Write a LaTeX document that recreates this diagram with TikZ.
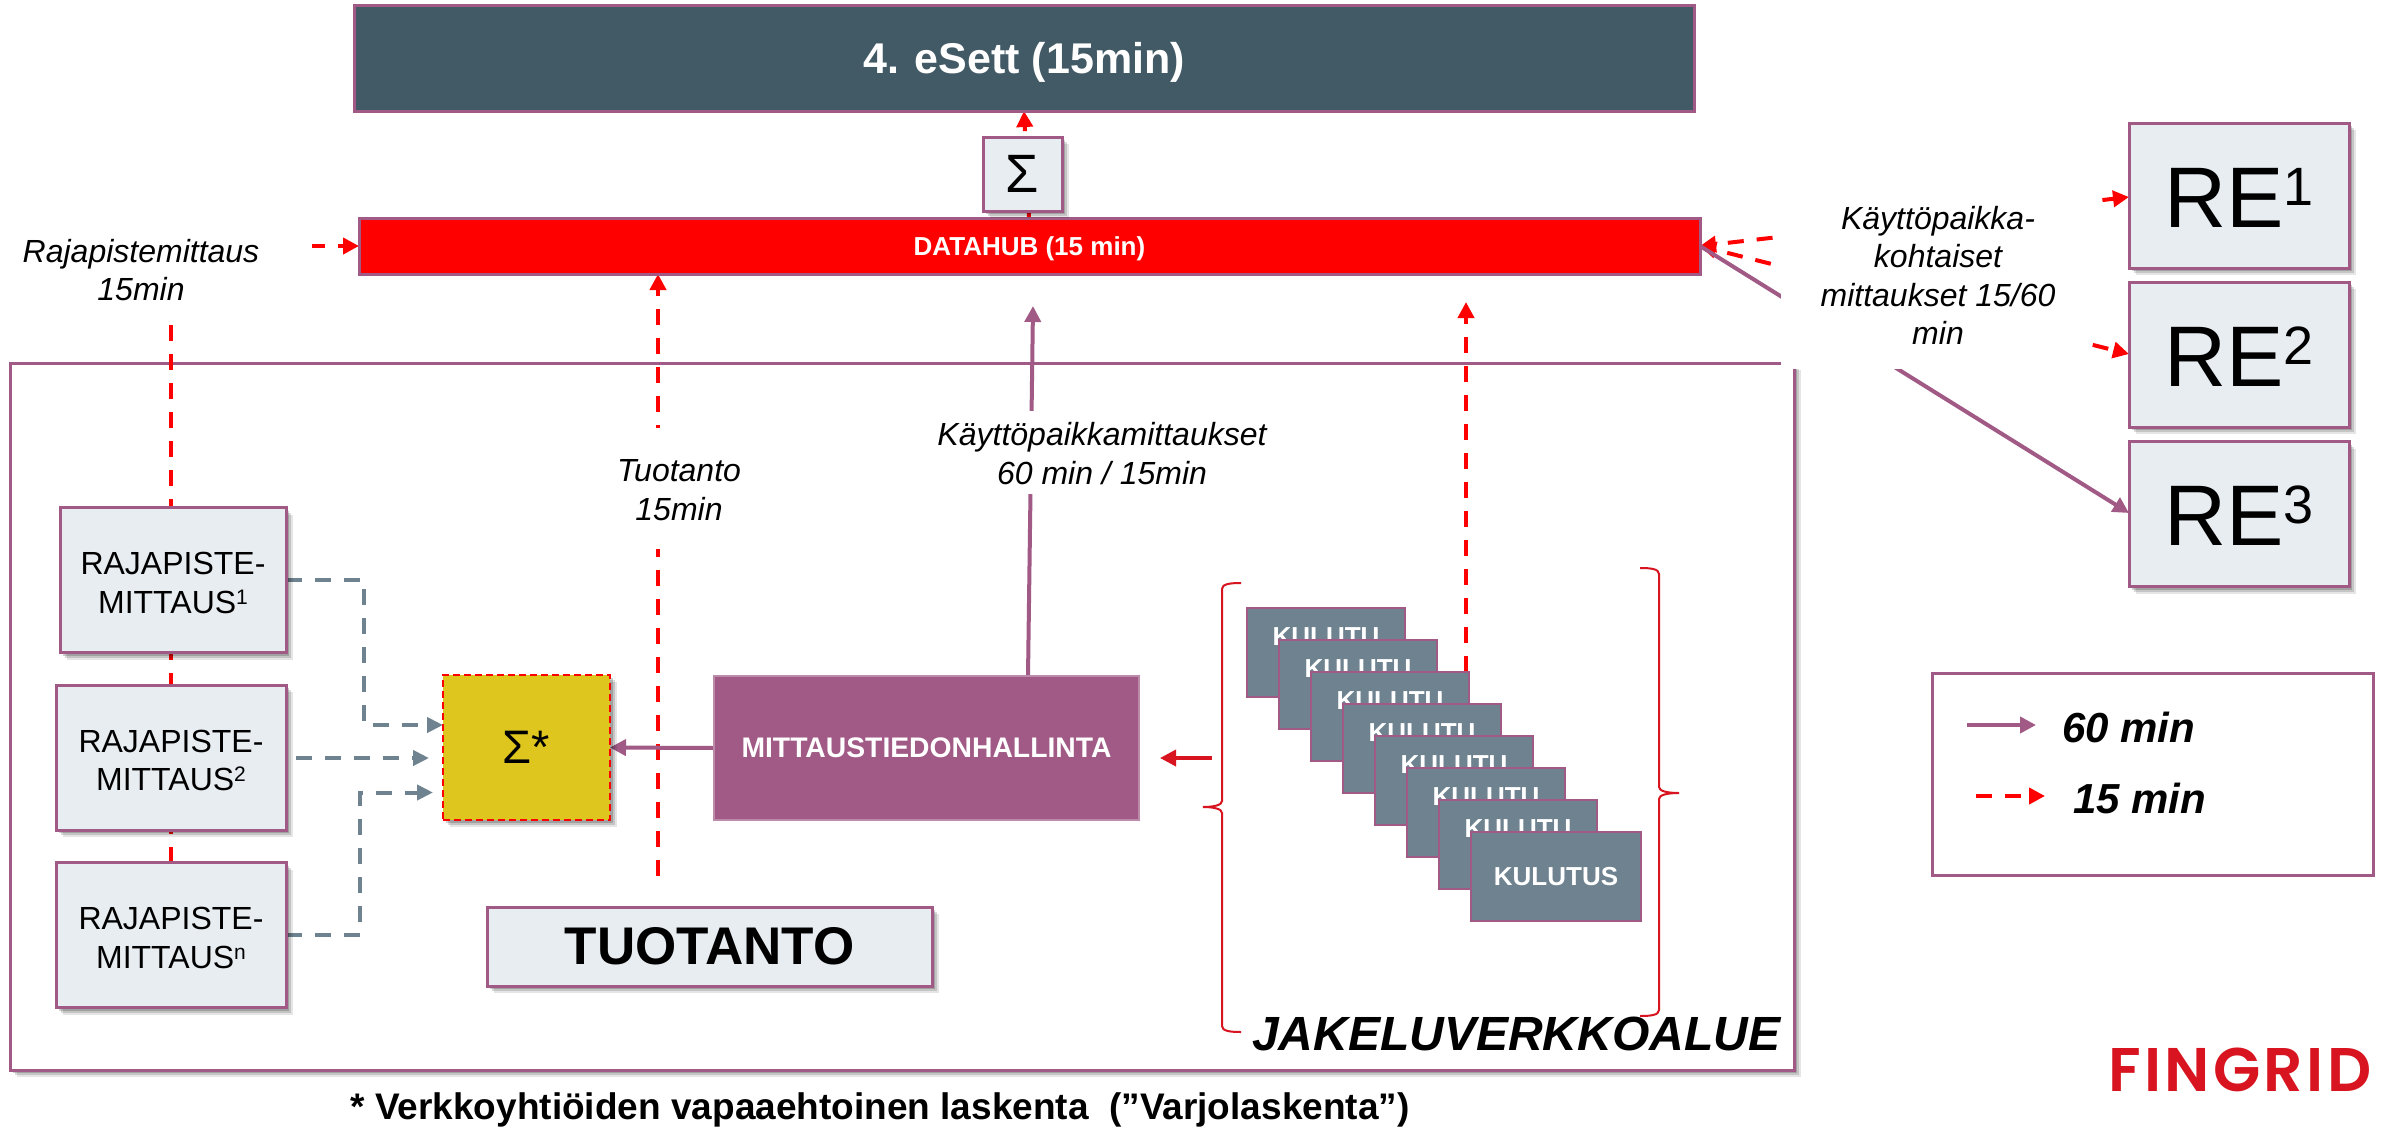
\documentclass[tikz,border=0pt]{standalone}
\usepackage{fontspec}
\setmainfont{Liberation Sans}
\newfontfamily\logofont[LetterSpace=5.4]{Poppins SemiBold}
\usetikzlibrary{arrows.meta,shadows,calc}
\definecolor{plum}{HTML}{A05A85}
\definecolor{slatedark}{HTML}{425A66}
\definecolor{slategrey}{HTML}{6E828F}
\definecolor{paleblue}{HTML}{E8EDF2}
\definecolor{mustard}{HTML}{DEC61E}
\definecolor{brandred}{HTML}{D7141F}
\newcommand\fs[2]{\fontsize{#1}{#2}\selectfont}
\newcommand\upa[1]{\raisebox{9pt}{\fs{21}{21}#1}}
\newcommand\upb[1]{\raisebox{22pt}{\fs{54}{54}#1}}
\newcommand\rajlab[1]{\rule{0pt}{28pt}RAJAPISTE-\\MITTAUS\upa{#1}}
\pgfdeclarelayer{regionlayer}
\pgfdeclarelayer{connlayer}
\pgfdeclarelayer{masklayer}
\pgfsetlayers{regionlayer,connlayer,masklayer,main}
\tikzset{
  softshadow/.style={
    general shadow={shadow xshift=7pt,shadow yshift=-7pt,fill=black,opacity=.10},
    general shadow={shadow xshift=5pt,shadow yshift=-5pt,fill=black,opacity=.14},
    general shadow={shadow xshift=3pt,shadow yshift=-3pt,fill=black,opacity=.18}},
  box/.style={draw=plum,line width=3pt,inner sep=0pt,outer sep=0pt,align=center},
  palebox/.style={box,fill=paleblue,softshadow},
  rajbox/.style={palebox,font=\fs{32}{38.5}},
  rebox/.style={palebox,minimum width=220pt,minimum height=145pt,font=\fs{86}{86},text height=63pt,text depth=0pt},
  kulbox/.style={box,line width=2pt,fill=slategrey,minimum height=89pt},
  kultext/.style={inner sep=0pt,text=white,font=\bfseries\fs{26}{26}},
  note/.style={inner sep=0pt,align=center,font=\itshape\fs{32}{38.5}},
  legendtext/.style={inner sep=0pt,anchor=base west,font=\bfseries\itshape\fs{42}{42}},
  redmin/.style={red,line width=4pt,dash pattern=on 16pt off 13pt,-{Triangle[length=16pt,width=16pt]}},
  redboth/.style={red,line width=4pt,dash pattern=on 16pt off 13pt,dash phase=16pt,{Triangle[length=16pt,width=16pt]}-{Triangle[length=16pt,width=16pt]}},
  plummin/.style={plum,line width=4pt,-{Triangle[length=16pt,width=16pt]}},
  greymin/.style={slategrey,line width=4pt,dash pattern=on 16pt off 13pt,-{Triangle[length=16pt,width=15pt]}},
  bracket/.style={brandred,line width=2pt}
}
\begin{document}
\begin{tikzpicture}[x=1pt,y=-1pt]
\useasboundingbox (0,0) rectangle (2390,1127);

% region
\begin{pgfonlayer}{regionlayer}
\node[box,fill=white,softshadow,minimum width=1784pt,minimum height=707pt] (region) at (902,716.5) {};
\end{pgfonlayer}

% boxes
\node[box,fill=slatedark,minimum width=1340pt,minimum height=106pt,text=white,font=\bfseries\fs{43}{43},text height=30pt,text depth=0pt] (esett) at (1024,58) {4. eSett (15min)};
\node[box,fill=red,minimum width=1341pt,minimum height=56pt,text=white,font=\bfseries\fs{26}{26},text height=19pt,text depth=0pt] (hub) at (1029.5,246) {DATAHUB (15 min)};
\node[palebox,minimum width=79pt,minimum height=74pt,font=\fs{54}{54}] (sigma) at (1022.5,174) {Σ};
\node[rajbox,minimum width=226pt,minimum height=145pt] (raj1) at (173,580) {\rajlab{1}};
\node[rajbox,minimum width=230pt,minimum height=145pt] (raj2) at (171,757.5) {\rajlab{2}};
\node[rajbox,minimum width=230pt,minimum height=145pt] (raj3) at (171,935) {\rajlab{n}};
\node[fill=mustard,draw=red,line width=2.5pt,dash pattern=on 7pt off 4pt,inner sep=0pt,outer sep=0pt,softshadow,minimum width=167pt,minimum height=145pt,font=\fs{47}{47}] (sum) at (526.5,747.5) {Σ*};
\node[box,line width=2pt,draw=plum!70!white,fill=plum,minimum width=425pt,minimum height=144pt,text=white,font=\bfseries\fs{28.3}{28.3}] (mitt) at (926.5,748) {MITTAUSTIEDONHALLINTA};
\node[palebox,minimum width=445pt,minimum height=79pt,font=\bfseries\fs{53}{53}] (tuot) at (709.5,946.5) {TUOTANTO};
\node[rebox] (re1) at (2239,195.5) {RE\upb{1}};
\node[rebox] (re2) at (2239,354.5) {RE\upb{2}};
\node[rebox] (re3) at (2239,514) {RE\upb{3}};

\foreach \i in {1,...,7}{
  \pgfmathsetmacro\kx{1326+32*(\i-1)}
  \pgfmathsetmacro\ky{652.5+32*(\i-1)}
  \node[kulbox,minimum width=158pt] (k\i) at (\kx,\ky) {};
  \node[kultext] (kt\i) at ($(k\i.center)+(0,-15.5)$) {KULUTU};
}
\node[kulbox,minimum width=170pt,text=white,font=\bfseries\fs{26}{26}] (k8) at (1556,876.5) {KULUTUS};

% legend
\node[box,minimum width=441pt,minimum height=202pt] (legend) at (2152.5,774) {};
\coordinate (l60a) at (1967,725); \coordinate (l60b) at (2036,725);
\coordinate (l15a) at (1976,796); \coordinate (l15b) at (2045,796);
\node[legendtext] (t60) at (2062,742) {60 min};
\node[legendtext] (t15) at (2073,813) {15 min};

% free connector ends
\coordinate (tuotfoot) at (658,876);
\coordinate (tuottip) at (658,274);
\coordinate (kayttoup) at (1033,306);
\coordinate (kaytfoot) at (1028,676);
\coordinate (kultip) at (1466,302);
\coordinate (kulfoot) at (1466,672);
\coordinate (hubup) at (1029,218);
\coordinate (esdown) at (1024,111);
\coordinate (hubright) at (1700,246);
\coordinate (re1in) at (2129,197);
\coordinate (re2in) at (2129,354);
\coordinate (re3in) at (2129,513);
\coordinate (raj2out) at (296,758);
\coordinate (sumtop) at (443,725);
\coordinate (sum2) at (429,758);
\coordinate (sum3) at (433,792.5);
\coordinate (bendone) at (364,580);
\coordinate (bendthree) at (360,935);
\coordinate (kularrow) at (1212,758);
\coordinate (mittarrow) at (1160,758);

\begin{pgfonlayer}{connlayer}
\draw[redmin] (raj3.north) |- (hub.west);
\draw[redmin] (tuotfoot) -- (tuottip);
\draw[plummin] (kaytfoot) -- (kayttoup);
\draw[redmin] (kulfoot) -- (kultip);
\draw[redmin] (hubup) -- (esdown);
\draw[redboth] (hubright) -- (re1in);
\draw[redboth] (hubright) -- (re2in);
\draw[plummin] (hubright) -- (re3in);
\draw[greymin] (raj1.east) -- (bendone) |- (sumtop);
\draw[greymin] (raj2out) -- (sum2);
\draw[greymin] (raj3.east) -- (bendthree) |- (sum3);
\draw[plummin] (mitt.west) -- (sum.east);
\draw[brandred,line width=3.5pt,-{Triangle[length=16pt,width=16pt]}] (kularrow) -- (mittarrow);
\draw[plummin] (l60a) -- (l60b);
\draw[redmin] (l15a) -- (l15b);
\end{pgfonlayer}

% white masks behind the labels
\begin{pgfonlayer}{masklayer}
\fill[white] (0,215) rectangle (312,322);
\fill[white] (600,428) rectangle (760,549);
\fill[white] (930,411) rectangle (1270,494);
\fill[white] (1781,180) rectangle (2091,369);
\end{pgfonlayer}

% labels
\node[note] (lraj) at (141,270) {Rajapistemittaus\\15min};
\node[note] (ltuot) at (679,490) {Tuotanto\\15min};
\node[note] (lkay) at (1102,453.5) {Käyttöpaikkamittaukset\\60 min / 15min};
\node[note] (lre) at (1938,275.5) {Käyttöpaikka-\\kohtaiset\\mittaukset 15/60\\min};

% braces
\draw[bracket] (1241,583) .. controls (1230,583) and (1222,584) .. (1222,589) -- (1222,801) .. controls (1222,805) and (1214,807) .. (1203,807) .. controls (1214,807) and (1222,809) .. (1222,813) -- (1222,1026) .. controls (1222,1031) and (1230,1032) .. (1241,1032);
\draw[bracket] (1640,568) .. controls (1651,568) and (1659,569) .. (1659,574) -- (1659,787) .. controls (1659,791) and (1667,793) .. (1679,793) .. controls (1667,793) and (1659,795) .. (1659,799) -- (1659,1010) .. controls (1659,1015) and (1651,1016) .. (1640,1016);

\node[inner sep=0pt,anchor=base west,font=\bfseries\itshape\fs{48}{48}] (jake) at (1252,1050) {JAKELUVERKKOALUE};
\node[inner sep=0pt,anchor=base,font=\bfseries\fs{37}{37}] (foot) at (880,1119) {* Verkkoyhtiöiden vapaaehtoinen laskenta\ \ (”Varjolaskenta”)};
\node[inner sep=0pt,anchor=base west,text=brandred,font=\logofont\fs{61.6}{61.6}] (logo) at (2108,1091) {FINGRID};
\end{tikzpicture}
\end{document}
